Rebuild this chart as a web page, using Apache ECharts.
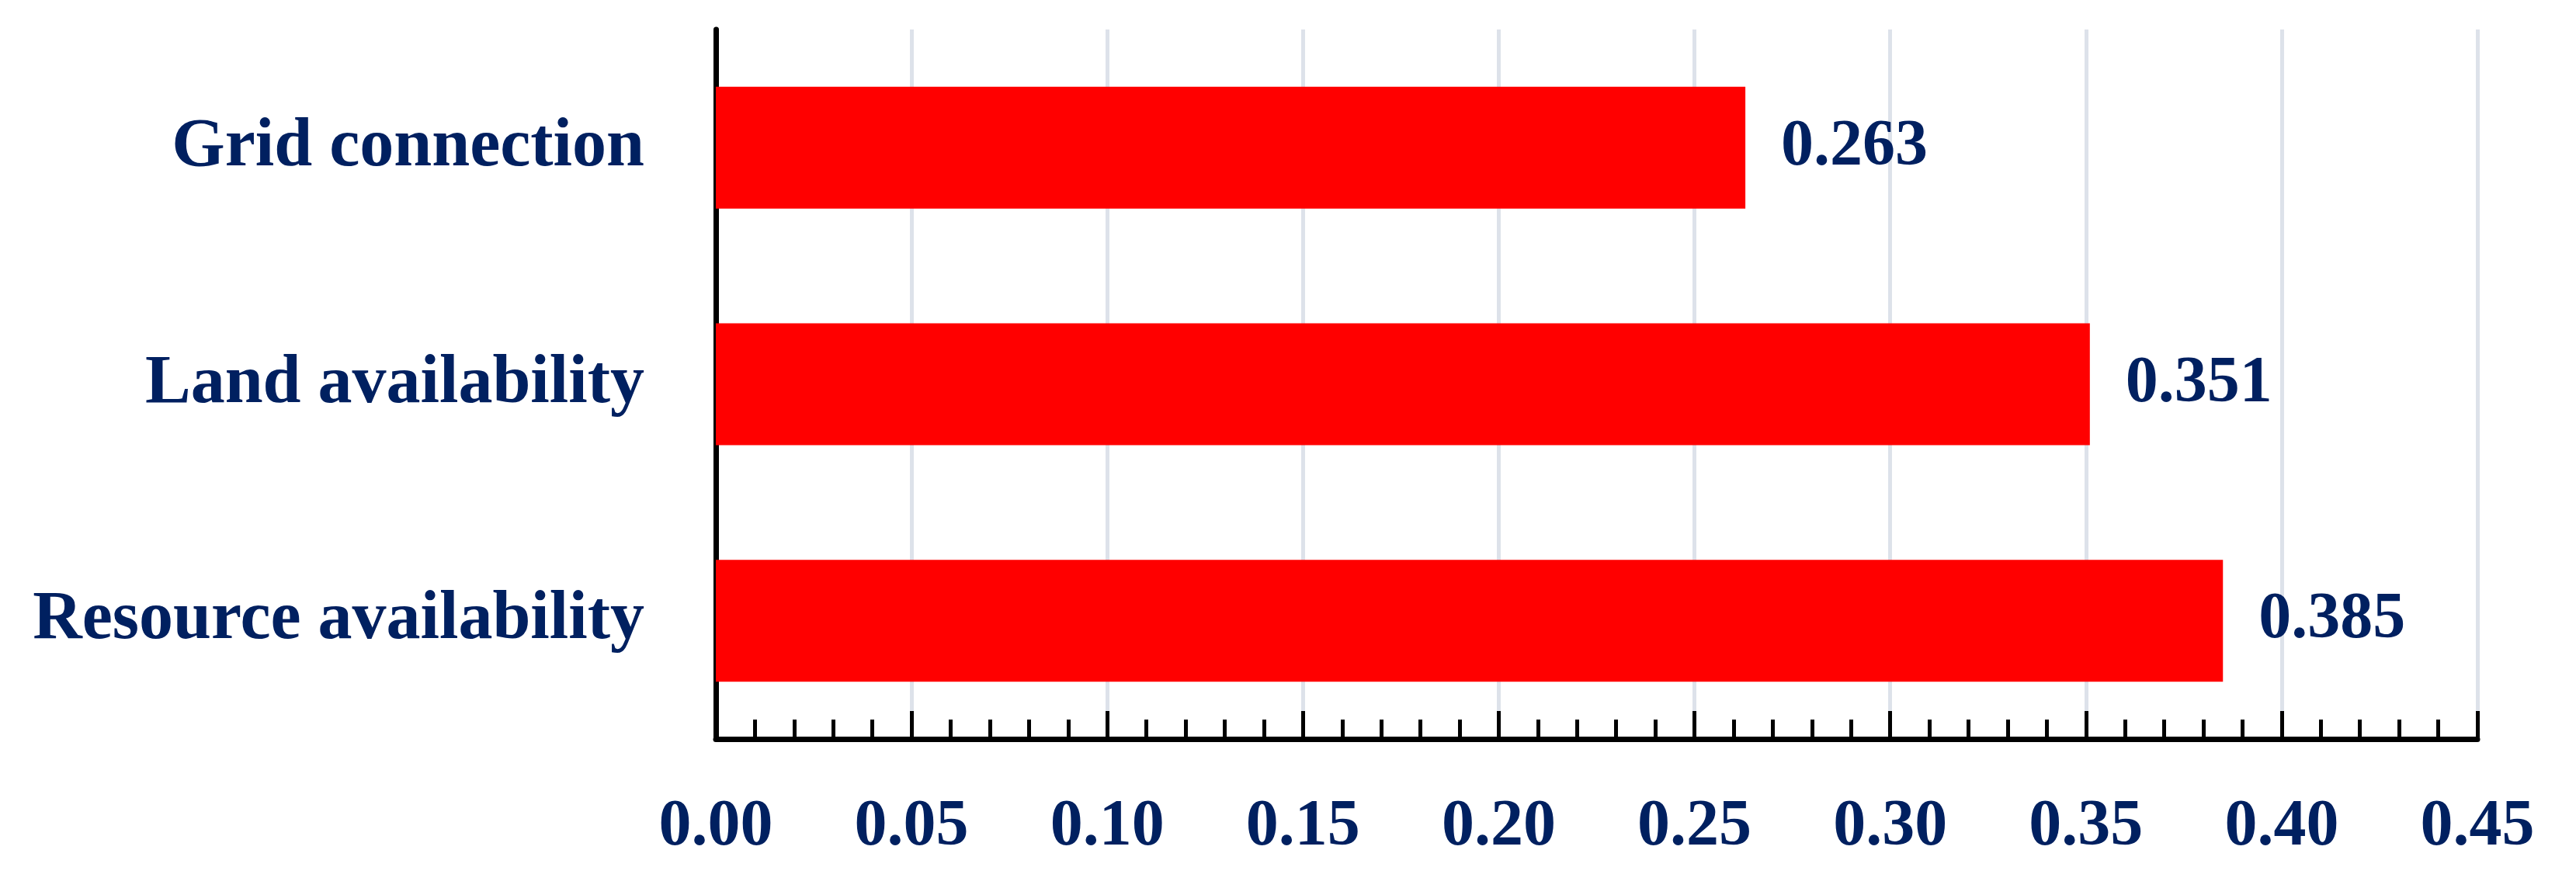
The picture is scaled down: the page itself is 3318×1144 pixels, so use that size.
<!DOCTYPE html>
<html>
<head>
<meta charset="utf-8">
<script src="https://cdn.jsdelivr.net/npm/echarts@6/dist/echarts.min.js"></script>
<style>
  html, body { margin: 0; padding: 0; background: #fff; }
  #chart { width: 3318px; height: 1144px; }
</style>
</head>
<body>
<div id="chart"></div>
<script>
// data (bottom to top)
var categories = ['Resource availability', 'Land availability', 'Grid connection'];
var weights = [0.385, 0.351, 0.263];
var xTicks = [0, 0.05, 0.10, 0.15, 0.20, 0.25, 0.30, 0.35, 0.40, 0.45];

var navy = '#002060';
var font = "'Liberation Serif', 'Times New Roman', serif";

var chart = echarts.init(document.getElementById('chart'));

var option = {
  animation: false,
  grid: { left: 922, right: 127, top: 38, bottom: 192, containLabel: false },
  xAxis: {
    type: 'value',
    min: xTicks[0],
    max: xTicks[xTicks.length - 1],
    interval: 0.05,
    axisLine: { show: true, lineStyle: { color: '#000', width: 7 } },
    axisTick: { show: true, inside: true, length: 36, lineStyle: { color: '#000', width: 5 } },
    minorTick: { show: true, splitNumber: 5, length: 25, lineStyle: { color: '#000', width: 5 } },
    splitLine: { show: true, lineStyle: { color: '#DDE2EA', width: 5 } },
    axisLabel: {
      margin: 72,
      color: navy,
      fontFamily: font,
      fontWeight: 'bold',
      fontSize: 84,
      formatter: function (v) { return v.toFixed(2); }
    }
  },
  yAxis: {
    type: 'category',
    data: categories,
    axisLine: { show: true, lineStyle: { color: '#000', width: 7 } },
    axisTick: { show: false },
    axisLabel: {
      margin: 92,
      color: navy,
      fontFamily: font,
      fontWeight: 'bold',
      fontSize: 88
    }
  },
  series: [
    {
      type: 'bar',
      data: weights,
      barWidth: 157,
      itemStyle: { color: '#FF0000' },
      label: {
        show: true,
        position: 'right',
        distance: 46,
        color: navy,
        fontFamily: font,
        fontWeight: 'bold',
        fontSize: 84,
        formatter: function (p) { return p.value.toFixed(3); }
      }
    }
  ]
};

chart.setOption(option);
</script>
</body>
</html>
